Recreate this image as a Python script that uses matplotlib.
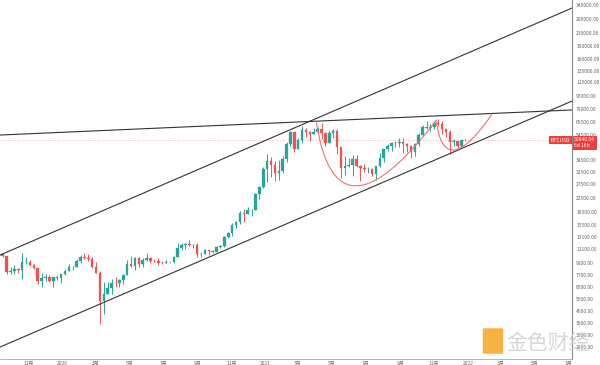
import matplotlib
matplotlib.use("Agg")
import matplotlib.pyplot as plt
import matplotlib.dates as mdates
from matplotlib.patches import FancyBboxPatch
import numpy as np
import datetime as dt

plt.rcParams['font.family'] = ['Noto Sans CJK SC', 'DejaVu Sans']

# ---- weekly BTCUSD candles (week start, open, high, low, close) ----
week_start = "2019-09-09"
opens  = [10300,10300,10000,8050,8150,8300,8220,9200,9200,8800,8500,7050,7400,7500,7100,7500,
          7400,7750,8150,8650,8600,9300,9900,9700,9650,8550,7950,5350,5850,6400,6900,6850,
          7150,7700,8900,8700,9700,8900,9450,9750,9350,9300,9150,9100,9250,9200,9950,11200,
          11700,11850,11650,11700,10250,10300,10900,10750,10650,11400,11500,13050,13800,15500,
          16050,18400,18200,19150,19150,23800,26300,34000,38200,36000,32250,33100,39250,48600,
          57500,45150,51200,59000,57350,55800,57100,60000,56150,49100,56600,58250,46450,34700,
          35700,35800,39100,35600,34700,34250,34250,31800,35400,39850,45050,47050,48950,48800,
          49950,48300,47250,43200,48200,54950,61550,60850,61300,64950,64400,59700,57250,49400,
          50100,46700,50800]
highs  = [10950,10350,10050,8550,8850,8450,10500,9950,9500,8950,8500,7900,7750,7650,7500,7700,
          7550,8400,9000,8750,9600,10200,10500,10250,9950,9200,8150,6950,6950,7250,7450,7300,
          7750,9450,10050,9950,9850,9750,10400,9950,9600,9750,9300,9450,9250,10000,12100,12000,
          12100,12500,11800,12100,10600,11100,10950,10950,11500,11700,13350,14100,15950,16450,
          18950,19450,19900,19450,24300,26900,34800,41950,40100,37850,38550,40950,49700,58350,
          57550,52650,61800,60600,58400,60200,61300,64850,57100,58450,59600,59500,46650,40850,
          39450,41300,41350,36000,36600,35050,34700,35400,42600,45300,48150,49750,50500,52900,
          52900,48850,47350,49200,56550,62900,67000,63700,66400,69000,66450,59900,59200,51950,
          50600,51400,51950]
lows   = [9900,9900,7750,7800,7800,7900,7300,9000,8700,8350,6800,6500,7100,6950,6450,7150,
          6850,7700,8100,8250,8550,9150,9650,9300,8450,7850,3850,4450,5850,5900,6500,6500,
          6800,7650,8550,8200,8650,8650,9300,9100,9250,8850,8900,9050,9050,9150,9950,10900,
          11100,11550,11150,9900,9900,10300,10150,10400,10550,11200,11400,12900,13200,14800,
          15800,16250,18100,17600,19000,22350,26000,28150,30400,28850,29150,32300,37300,47000,
          43000,45000,49300,53200,50400,55450,55500,51500,47050,48750,52900,42100,30000,31100,
          34800,31000,34850,28800,32700,32100,31000,29300,35200,37500,43800,43950,46350,46500,
          42850,43300,39600,40750,46900,54200,59500,57850,59500,62300,55600,53550,42000,47100,
          45500,45600,50550]
closes = [10300,10000,8050,8150,8300,8220,9200,9200,8800,8500,7050,7400,7500,7100,7500,7400,
          7750,8150,8650,8600,9300,9900,9700,9650,8550,7950,5350,5850,6400,6900,6850,7150,
          7700,8900,8700,9700,8900,9450,9750,9350,9300,9150,9100,9250,9200,9950,11200,11700,
          11850,11650,11700,10250,10300,10900,10750,10650,11400,11500,13050,13800,15500,16050,
          18400,18200,19150,19150,23800,26300,34000,38200,36000,32250,33100,39250,48600,57500,
          45150,51200,59000,57350,55800,57100,60000,56150,49100,56600,58250,46450,34700,35700,
          35800,39100,35600,34700,34250,34250,31800,35400,39850,45050,47050,48950,48800,49950,
          48300,47250,43200,48200,54950,61550,60850,61300,64950,64400,59700,57250,49400,50100,
          46700,50800,50840.54]

# price axis ticks (right side)
price_ticks = [340000, 280000, 230000, 190000, 160000, 135000, 115000, 95000, 79000, 65500,
               54500, 38500, 32500, 27500, 22500, 18500, 15500, 13100, 11100, 9100, 7700,
               6500, 5500, 4600, 3900, 3300, 2800]
# date axis ticks
date_ticks = ["2019-11-01", "2020-01-01", "2020-03-01", "2020-05-01", "2020-07-01", "2020-09-01",
              "2020-11-01", "2021-01-01", "2021-03-01", "2021-05-01", "2021-07-01", "2021-09-01",
              "2021-11-01", "2022-01-01", "2022-03-01", "2022-05-01", "2022-07-01"]
date_labels = ["11月", "2020", "3月", "5月", "7月", "9月", "11月", "2021", "3月", "5月", "7月",
               "9月", "11月", "2022", "3月", "5月", "7月"]

last_price = 50840.54
symbol = "BTCUSD"
countdown = "6d 16h"

# trend lines: (date, price) endpoints
upper_channel = [("2019-09-11", 10160), ("2022-07-07", 326000)]
lower_channel = [("2019-09-11", 2793), ("2022-07-07", 88300)]
resistance    = [("2019-09-11", 54800), ("2022-07-07", 77900)]
# red arcs: quadratic bezier (start, control, end)
big_cup   = [("2021-04-03", 64800), ("2021-05-09", 10900), ("2021-11-05", 67600)]
small_cup = [("2021-11-05", 65700), ("2021-11-20", 28600), ("2022-02-12", 72600)]

# ---------------------------------------------------------------
fig = plt.figure(figsize=(6.0, 3.65), dpi=100)
ax = fig.add_axes([0.0, 6/365, 572/600, 359/365])
ax.set_yscale('log')

start = dt.date.fromisoformat(week_start)
dates = [start + dt.timedelta(weeks=i) for i in range(len(opens))]
xd = mdates.date2num(dates)
o = np.array(opens, float); h = np.array(highs, float)
l = np.array(lows, float); c = np.array(closes, float)
up = c >= o
col = np.where(up, '#26a69a', '#ef5350')

ax.vlines(xd, l, h, colors=col, linewidth=0.7, zorder=3)
ax.bar(xd, c - o, bottom=o, width=4.6, color=col, edgecolor=col, linewidth=0.2, zorder=4)

def seg(pts):
    return ([mdates.date2num(dt.date.fromisoformat(d)) for d, _ in pts], [p for _, p in pts])

for pts in (upper_channel, lower_channel, resistance):
    xs, ys = seg(pts)
    ax.plot(xs, ys, color='#333333', linewidth=0.8, zorder=5)

def bezier(pts):
    xs, ys = seg(pts)
    P = np.array(list(zip(xs, np.log10(ys))))
    t = np.linspace(0, 1, 100)
    B = ((1-t)**2)[:, None]*P[0] + (2*t*(1-t))[:, None]*P[1] + (t**2)[:, None]*P[2]
    return B[:, 0], 10**B[:, 1]

for pts in (big_cup, small_cup):
    bx, by = bezier(pts)
    ax.plot(bx, by, color='#f07070', linewidth=0.8, zorder=6)

ax.axhline(last_price, color='#ef5350', linewidth=0.6, linestyle=(0, (1, 2)), alpha=0.6, zorder=2)

ax.set_xlim(mdates.date2num(dt.date(2019, 9, 11)), mdates.date2num(dt.date(2022, 7, 7)))
ax.set_ylim(2361, 364900)

ax.yaxis.tick_right()
ax.set_yticks(price_ticks)
ax.set_yticklabels([f"{v:.2f}" for v in price_ticks])
ax.yaxis.set_minor_locator(matplotlib.ticker.NullLocator())
ax.tick_params(axis='y', which='both', length=0, labelsize=3.6, labelcolor='#666666', pad=3)

ax.set_xticks([mdates.date2num(dt.date.fromisoformat(d)) for d in date_ticks])
ax.set_xticklabels(date_labels)
ax.tick_params(axis='x', length=0, labelsize=3.6, labelcolor='#666666', pad=1.5)

for s in ('top', 'left'):
    ax.spines[s].set_visible(False)
ax.spines['right'].set_color('#888888'); ax.spines['right'].set_linewidth(0.8)
ax.spines['bottom'].set_color('#aaaaaa'); ax.spines['bottom'].set_linewidth(0.6)

# last price marker on the axis
yfrac = ax.transAxes.inverted().transform(ax.transData.transform((0, last_price)))[1]
ax.text(1.004, yfrac - 0.007, f"{last_price:.2f}\n{countdown}", transform=ax.transAxes,
        fontsize=3.6, color='white', ha='left', va='center', linespacing=1.3,
        bbox=dict(boxstyle='square,pad=0.35', fc='#ef3e3e', ec='none'), zorder=10, clip_on=False)
ax.text(0.997, yfrac, symbol, transform=ax.transAxes, fontsize=3.6, color='white',
        ha='right', va='center',
        bbox=dict(boxstyle='square,pad=0.3', fc='#ef3e3e', ec='none'), zorder=10, clip_on=False)

# watermark
fig.patches.append(FancyBboxPatch((484/600, 12/365), 18/600, 24/365, boxstyle='round,pad=0.002',
                                  transform=fig.transFigure, fc='#f5a623', ec='none', alpha=0.85))
fig.text(548/600, 22/365, "金色财经", fontsize=15, color='#d0d0d0', ha='center', va='center',
         alpha=0.85, family=['Noto Sans CJK SC', 'DejaVu Sans'])

fig.savefig("out.png", dpi=100)
